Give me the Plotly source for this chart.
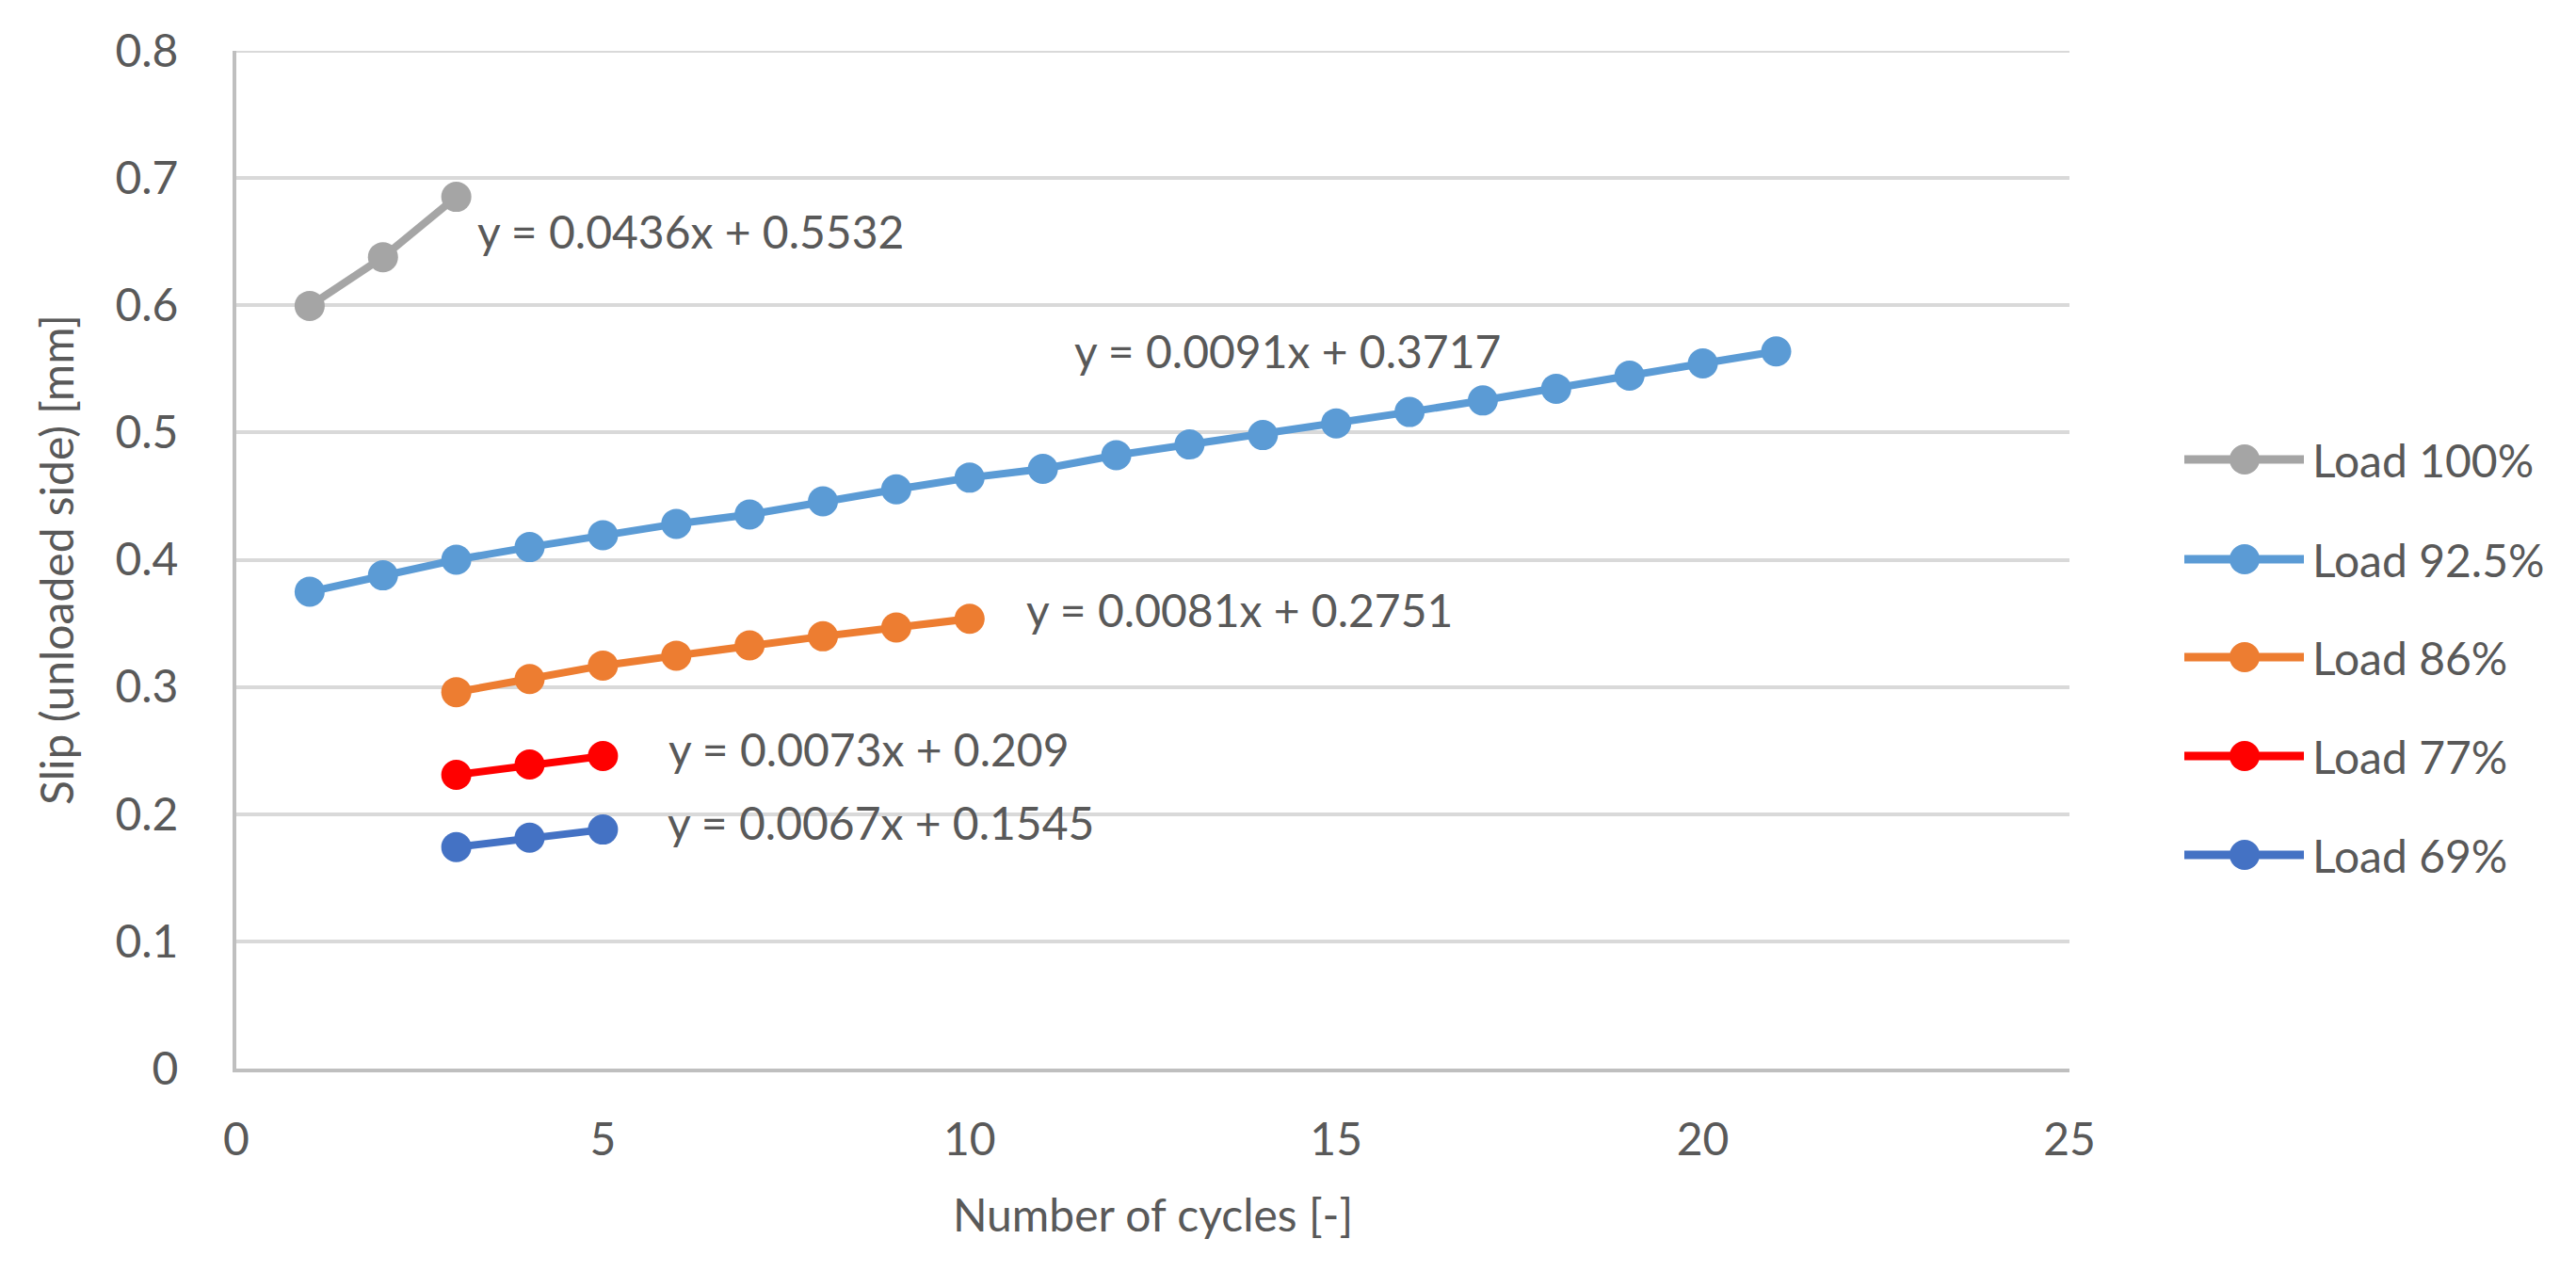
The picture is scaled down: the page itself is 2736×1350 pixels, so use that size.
import plotly.graph_objects as go

# ---- data ----
series_names = ["Load 100%", "Load 92.5%", "Load 86%", "Load 77%", "Load 69%"]
series_colors = ["#A5A5A5", "#5B9BD5", "#ED7D31", "#FF0000", "#4472C4"]

x_100 = [1, 2, 3]
y_100 = [0.5995, 0.6378, 0.6852]

x_925 = list(range(1, 22))
y_925 = [0.3748, 0.3877, 0.4000, 0.4099, 0.4193, 0.4282, 0.4355, 0.4459, 0.4553,
         0.4645, 0.4714, 0.4821, 0.4906, 0.4980, 0.5072, 0.5161, 0.5252, 0.5344,
         0.5447, 0.5543, 0.5637]

x_86 = [3, 4, 5, 6, 7, 8, 9, 10]
y_86 = [0.2959, 0.3062, 0.3168, 0.3246, 0.3327, 0.3398, 0.3467, 0.3536]

x_77 = [3, 4, 5]
y_77 = [0.2309, 0.2390, 0.2457]

x_69 = [3, 4, 5]
y_69 = [0.1741, 0.1815, 0.1879]

eq_texts = ["y = 0.0436x + 0.5532", "y = 0.0091x + 0.3717", "y = 0.0081x + 0.2751",
            "y = 0.0073x + 0.209", "y = 0.0067x + 0.1545"]
eq_x = [3.26, 11.40, 10.75, 5.87, 5.85]
eq_y = [0.658, 0.564, 0.3605, 0.2509, 0.1932]

x_ticks = [0, 5, 10, 15, 20, 25]
y_ticks = [0, 0.1, 0.2, 0.3, 0.4, 0.5, 0.6, 0.7, 0.8]
y_ticklabels = ["0", "0.1", "0.2", "0.3", "0.4", "0.5", "0.6", "0.7", "0.8"]

xs = [x_100, x_925, x_86, x_77, x_69]
ys = [y_100, y_925, y_86, y_77, y_69]

FONT = "Lato"
TXT = "#595959"

# plot-area geometry (px)
W, H = 2736, 1350
ML, MR, MT, MB = 243, 546, 46, 223
PW, PH = W - ML - MR, H - MT - MB


def px_x(p):
    return (p - ML) / PW


def px_y(p):
    return 1 - (p - MT) / PH


fig = go.Figure()
for i, (name, col, xv, yv) in enumerate(zip(series_names, series_colors, xs, ys)):
    fig.add_trace(go.Scatter(
        x=xv, y=yv, name=name, mode="lines+markers",
        line=dict(color=col, width=8),
        marker=dict(color=col, size=32, line=dict(width=0)),
        showlegend=False,
    ))

for t, ex, ey in zip(eq_texts, eq_x, eq_y):
    fig.add_annotation(x=ex, y=ey, text=t, showarrow=False, xanchor="left",
                       yanchor="middle", font=dict(family=FONT, size=48, color=TXT))

# top gridline at 0.8
fig.add_shape(type="line", xref="paper", yref="y", x0=0, x1=1, y0=0.8, y1=0.8,
              line=dict(color="#D9D9D9", width=4), layer="below")

# legend (drawn manually so the symbols keep the chart's size)
leg_rows = [480, 586, 690, 795, 900]
for name, col, ry in zip(series_names, series_colors, leg_rows):
    yp = px_y(ry)
    fig.add_shape(type="line", xref="paper", yref="paper",
                  x0=px_x(2312), x1=px_x(2439), y0=yp, y1=yp,
                  line=dict(color=col, width=9))
    fig.add_shape(type="circle", xref="paper", yref="paper",
                  xsizemode="pixel", ysizemode="pixel",
                  xanchor=px_x(2376), yanchor=yp, x0=-16, x1=16, y0=-16, y1=16,
                  fillcolor=col, line=dict(width=0))
    fig.add_annotation(xref="paper", yref="paper", x=px_x(2446), y=yp, text=name,
                       showarrow=False, xanchor="left", yanchor="middle",
                       font=dict(family=FONT, size=48, color=TXT))

fig.update_layout(
    width=W, height=H,
    margin=dict(l=ML, r=MR, t=MT, b=MB),
    paper_bgcolor="white", plot_bgcolor="white",
    font=dict(family=FONT, size=48, color=TXT),
    showlegend=False,
)
fig.update_xaxes(
    range=[0, 25], tickvals=x_ticks, showgrid=False, zeroline=False,
    showline=True, linecolor="#BFBFBF", linewidth=4,
    ticks="", ticklabelstandoff=30,
    tickfont=dict(family=FONT, size=48, color=TXT),
    title=dict(text="Number of cycles [-]", standoff=40,
               font=dict(family=FONT, size=48, color=TXT)),
)
fig.update_yaxes(
    range=[0, 0.8], tickvals=y_ticks, ticktext=y_ticklabels,
    showgrid=True, gridcolor="#D9D9D9", gridwidth=4, zeroline=False,
    showline=True, linecolor="#BFBFBF", linewidth=4,
    ticks="", ticklabelstandoff=48,
    tickfont=dict(family=FONT, size=48, color=TXT),
    title=dict(text="Slip (unloaded side) [mm]", standoff=30,
               font=dict(family=FONT, size=48, color=TXT)),
)

fig.write_html("out.html")
